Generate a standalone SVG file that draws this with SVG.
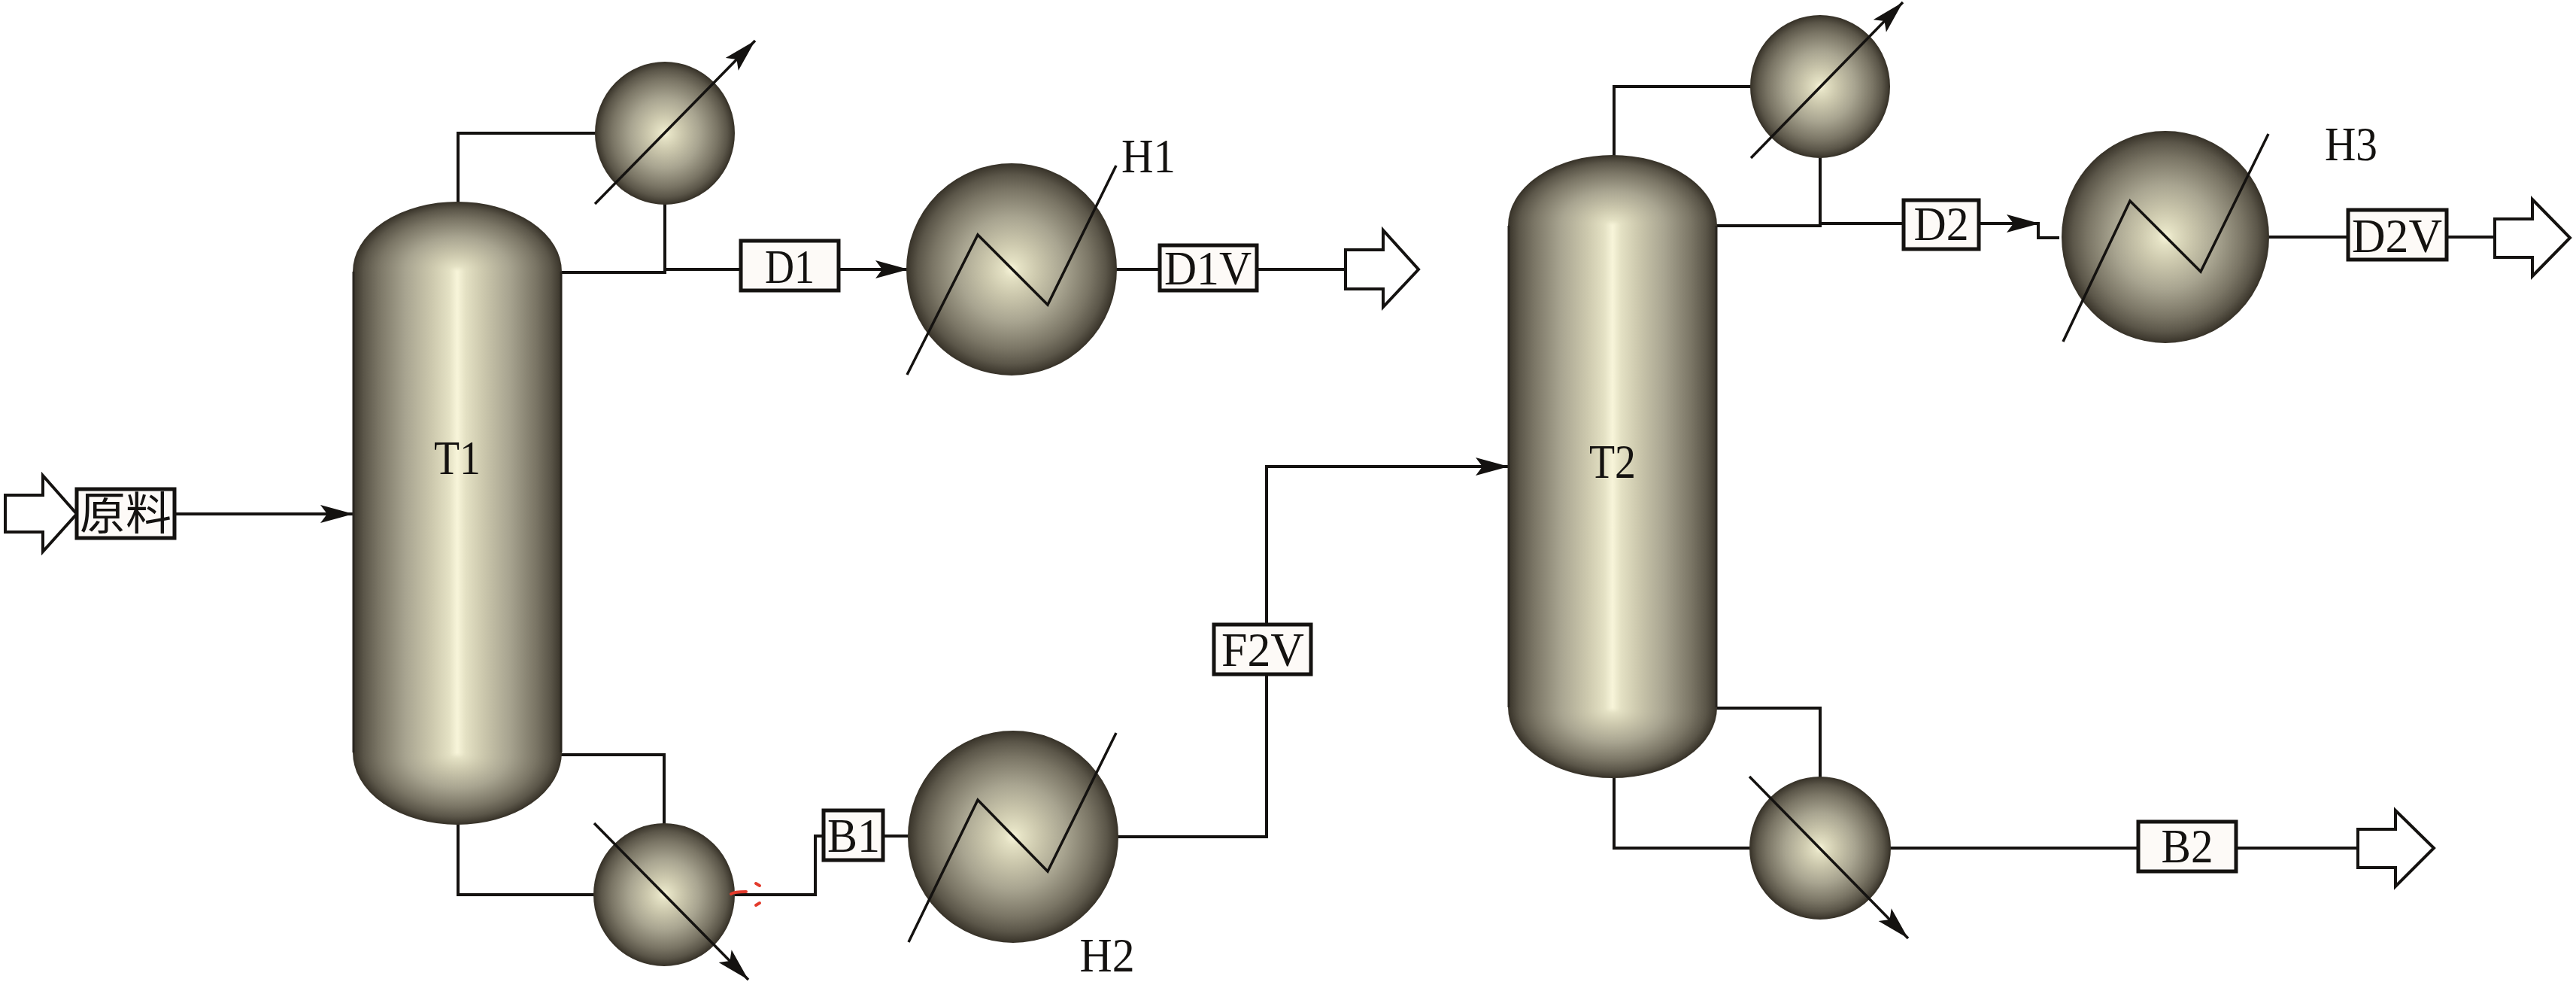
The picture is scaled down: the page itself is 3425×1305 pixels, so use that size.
<svg xmlns="http://www.w3.org/2000/svg" width="3425" height="1305" viewBox="0 0 3425 1305">
<style>
.ln{fill:none;stroke:#141210;stroke-width:4}
.thin{fill:none;stroke:#141210;stroke-width:3.5}
.box{fill:#fdfaf7;stroke:#141210;stroke-width:5}
.out{fill:#fff;stroke:#141210;stroke-width:4;stroke-linejoin:miter}
.t{font-family:"Liberation Serif","Noto Sans CJK SC",serif;font-size:63px;fill:#141210;text-anchor:middle}
.red{fill:none;stroke:#e33b2c;stroke-width:4;stroke-linecap:round}
.edge{fill:url(#sph);stroke:#3a352b;stroke-width:2}
.side{fill:none;stroke:#2a2620;stroke-width:3}
</style>
<defs>
<linearGradient id="col" x1="0" x2="1" y1="0" y2="0">
<stop offset="0" stop-color="#3a352b"/><stop offset=".05" stop-color="#5b5649"/><stop offset=".12" stop-color="#7a7565"/><stop offset=".25" stop-color="#a8a490"/><stop offset=".38" stop-color="#cdc9ae"/><stop offset=".46" stop-color="#e4e1c4"/><stop offset=".5" stop-color="#f8f5da"/><stop offset=".54" stop-color="#e4e1c4"/><stop offset=".62" stop-color="#cdc9ae"/><stop offset=".75" stop-color="#a8a490"/><stop offset=".88" stop-color="#7a7565"/><stop offset=".95" stop-color="#5b5649"/><stop offset="1" stop-color="#3a352b"/>
</linearGradient>
<radialGradient id="sph" cx=".5" cy=".5" r=".5">
<stop offset="0" stop-color="#f8f5da"/><stop offset=".08" stop-color="#e4e1c4"/><stop offset=".24" stop-color="#cdc9ae"/><stop offset=".5" stop-color="#a8a490"/><stop offset=".76" stop-color="#7a7565"/><stop offset=".9" stop-color="#5b5649"/><stop offset="1" stop-color="#3a352b"/>
</radialGradient>
<marker id="ah" markerUnits="userSpaceOnUse" markerWidth="50" markerHeight="30" refX="44" refY="12" orient="auto">
<path d="M0 0L44 12L0 24L9 12Z" fill="#141210"/>
</marker>
</defs>

<g id="connectors">
<path class="ln" d="M609 269V177H792"/>
<path class="ln" d="M884 270V359"/>
<path class="ln" d="M746 362H884V358H985"/>
<path class="ln" d="M1115 358H1208" marker-end="url(#ah)"/>
<path class="ln" d="M1484 358H1542"/>
<path class="ln" d="M1671 358H1789"/>
<path class="ln" d="M232 683H470" marker-end="url(#ah)"/>
<path class="ln" d="M746 1003H883V1096"/>
<path class="ln" d="M609 1095V1189H790"/>
<path class="ln" d="M976 1189H1084V1111H1095"/>
<path class="ln" d="M1174 1111H1208"/>
<path class="ln" d="M1486 1112H1684V896"/>
<path class="ln" d="M1684 830V620H2006" marker-end="url(#ah)"/>
<path class="ln" d="M2146 207V115H2328"/>
<path class="ln" d="M2420 208V297"/>
<path class="ln" d="M2282 300H2420V297H2531"/>
<path class="ln" d="M2631 297H2712" marker-end="url(#ah)"/>
<path class="ln" d="M2710 297V316H2738"/>
<path class="ln" d="M3016 315H3122"/>
<path class="ln" d="M3253 315H3317"/>
<path class="ln" d="M2282 941H2420V1034"/>
<path class="ln" d="M2146 1033V1127H2327"/>
<path class="ln" d="M2513 1127H2843"/>
<path class="ln" d="M2973 1127H3135"/>
</g>

<g id="T1">
<ellipse class="edge" cx="608" cy="361" rx="138" ry="92"/>
<ellipse class="edge" cx="608" cy="1000" rx="138" ry="95"/>
<rect x="470" y="361" width="276" height="639" fill="url(#col)"/>
<path class="side" d="M470 361V1000M746 361V1000"/>
<text class="t" x="608" y="630" textLength="62" lengthAdjust="spacingAndGlyphs">T1</text>
</g>
<g id="T2">
<ellipse class="edge" cx="2144" cy="300" rx="138" ry="93"/>
<ellipse class="edge" cx="2144" cy="940" rx="138" ry="93"/>
<rect x="2006" y="300" width="276" height="640" fill="url(#col)"/>
<path class="side" d="M2006 300V940M2282 300V940"/>
<text class="t" x="2144" y="635" textLength="62" lengthAdjust="spacingAndGlyphs">T2</text>
</g>

<g id="C1">
<ellipse class="edge" cx="884" cy="177" rx="92" ry="94"/>
<path class="thin" d="M791 271L1004 54" marker-end="url(#ah)"/>
</g>
<g id="R1">
<ellipse class="edge" cx="883" cy="1189" rx="93" ry="94"/>
<path class="thin" d="M790 1094L995 1302" marker-end="url(#ah)"/>
</g>
<g id="C2">
<ellipse class="edge" cx="2420" cy="115" rx="92" ry="94"/>
<path class="thin" d="M2328 210L2530 3" marker-end="url(#ah)"/>
</g>
<g id="R2">
<ellipse class="edge" cx="2420" cy="1127" rx="93" ry="94"/>
<path class="thin" d="M2326 1032L2537 1247" marker-end="url(#ah)"/>
</g>

<g id="H1">
<ellipse class="edge" cx="1345" cy="358" rx="139" ry="140"/>
<path class="thin" d="M1206 498L1300 312L1393 405L1484 220"/>
<text class="t" x="1527" y="229" textLength="72" lengthAdjust="spacingAndGlyphs">H1</text>
</g>
<g id="H2">
<ellipse class="edge" cx="1347" cy="1112" rx="139" ry="140"/>
<path class="thin" d="M1208 1252L1300 1063L1393 1158L1484 974"/>
<text class="t" x="1472" y="1291" textLength="73" lengthAdjust="spacingAndGlyphs">H2</text>
</g>
<g id="H3">
<ellipse class="edge" cx="2879" cy="315" rx="137" ry="140"/>
<path class="thin" d="M2743 454L2832 267L2926 361L3016 178"/>
<text class="t" x="3126" y="213" textLength="70" lengthAdjust="spacingAndGlyphs">H3</text>
</g>

<g id="feed">
<path class="out" d="M7 658H57V632L102 683L57 733V707H7Z"/>
<rect class="box" x="102" y="650" width="130" height="65"/>
<text class="t" x="167" y="704" style="font-size:60px" textLength="122" lengthAdjust="spacingAndGlyphs">原料</text>
</g>
<g id="D1">
<rect class="box" x="985" y="320" width="130" height="66"/>
<text class="t" x="1050" y="376" textLength="66" lengthAdjust="spacingAndGlyphs">D1</text>
</g>
<g id="D1V">
<rect class="box" x="1542" y="326" width="129" height="60"/>
<text class="t" x="1606" y="378" textLength="116" lengthAdjust="spacingAndGlyphs">D1V</text>
</g>
<g id="D1V-out">
<path class="out" d="M1789 332H1839V306L1886 358L1839 408V384H1789Z"/>
</g>
<g id="B1">
<rect class="box" x="1095" y="1077" width="79" height="66"/>
<text class="t" x="1135" y="1132" textLength="70" lengthAdjust="spacingAndGlyphs">B1</text>
</g>
<g id="F2V">
<rect class="box" x="1614" y="830" width="129" height="66"/>
<text class="t" x="1679" y="885" textLength="110" lengthAdjust="spacingAndGlyphs">F2V</text>
</g>
<g id="D2">
<rect class="box" x="2531" y="266" width="100" height="65"/>
<text class="t" x="2581" y="319" textLength="73" lengthAdjust="spacingAndGlyphs">D2</text>
</g>
<g id="D2V">
<rect class="box" x="3122" y="279" width="131" height="66"/>
<text class="t" x="3187" y="335" textLength="120" lengthAdjust="spacingAndGlyphs">D2V</text>
</g>
<g id="D2V-out">
<path class="out" d="M3317 291H3367V265L3417 316L3367 367V342H3317Z"/>
</g>
<g id="B2">
<rect class="box" x="2843" y="1092" width="130" height="66"/>
<text class="t" x="2908" y="1146" textLength="69" lengthAdjust="spacingAndGlyphs">B2</text>
</g>
<g id="B2-out">
<path class="out" d="M3135 1102H3185V1077L3236 1127L3185 1178V1153H3135Z"/>
</g>
<g id="marks">
<path class="red" d="M972 1188Q976 1185 992 1185"/>
<path class="red" d="M1005 1174L1010 1177M1005 1203L1010 1200"/>
</g>
</svg>
